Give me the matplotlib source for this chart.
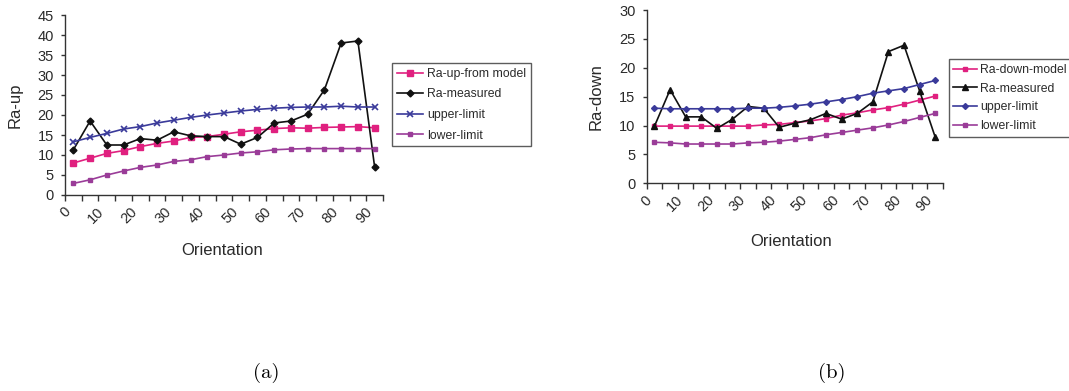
import numpy as np
import matplotlib
matplotlib.use('Agg')
import matplotlib.pyplot as plt

# Orientation categories (0..90 step 5), labels every other one
orientation = [0, 5, 10, 15, 20, 25, 30, 35, 40, 45, 50, 55, 60, 65, 70, 75, 80, 85, 90]
tick_labels = ['0', '10', '20', '30', '40', '50', '60', '70', '80', '90']

# (a) Ra-up
up_model = [8.0, 9.2, 10.4, 11.1, 12.1, 12.9, 13.5, 14.4, 14.6, 15.2, 15.8, 16.2, 16.6, 16.8,
            16.7, 16.9, 17.0, 17.1, 16.8]
up_measured = [11.3, 18.5, 12.5, 12.5, 14.1, 13.7, 15.8, 14.8, 14.6, 14.6, 12.7, 14.4, 18.0, 18.5,
               20.2, 26.3, 38.0, 38.5, 7.0]
up_upper = [13.3, 14.4, 15.4, 16.5, 17.1, 18.0, 18.7, 19.4, 20.0, 20.5, 21.0, 21.4, 21.7, 21.9,
            22.0, 22.0, 22.2, 22.0, 22.0]
up_lower = [2.9, 3.8, 5.0, 6.0, 6.9, 7.5, 8.4, 8.8, 9.6, 10.0, 10.5, 10.8, 11.3, 11.5,
            11.6, 11.6, 11.6, 11.6, 11.6]

# (b) Ra-down
down_model = [9.9, 9.9, 9.9, 9.9, 9.9, 9.9, 9.9, 10.1, 10.2, 10.5, 10.8, 11.2, 11.8, 12.2,
              12.7, 13.1, 13.7, 14.4, 15.1]
down_measured = [9.9, 16.2, 11.5, 11.5, 9.5, 11.1, 13.3, 13.0, 9.7, 10.4, 11.0, 12.1, 11.1, 12.1,
                 14.1, 22.8, 23.9, 16.0, 8.0]
down_upper = [13.0, 12.9, 12.9, 12.9, 12.9, 12.9, 13.0, 13.0, 13.15, 13.4, 13.7, 14.1, 14.5, 15.0,
              15.6, 16.0, 16.4, 17.1, 17.8]
down_lower = [7.1, 7.0, 6.8, 6.8, 6.8, 6.8, 7.0, 7.1, 7.3, 7.6, 7.9, 8.4, 8.8, 9.2,
              9.6, 10.1, 10.7, 11.4, 12.1]

colors = {
    'model': '#e0207f',
    'measured': '#111111',
    'upper': '#3a3a9a',
    'lower': '#9a3c98',
}

plt.rcParams['font.family'] = ['Liberation Sans', 'DejaVu Sans']
text_col = '#2a2a2a'

fig = plt.figure(figsize=(10.69, 3.91), dpi=100)
W, H = 1069, 391


def fig_rect(x0, x1, y_top, y_bot):
    return [x0 / W, 1 - y_bot / H, (x1 - x0) / W, (y_bot - y_top) / H]


def style_axis(ax, ymax, ystep):
    x = np.arange(len(orientation))
    ax.set_xlim(-0.5, len(orientation) - 0.5)
    ax.set_ylim(0, ymax)
    ax.set_yticks(np.arange(0, ymax + 1, ystep))
    ax.set_xticks(x[::2])
    ax.set_xticklabels(tick_labels, rotation=45, ha='right')
    ax.set_xticks(np.arange(-0.5, len(orientation), 1), minor=True)
    ax.tick_params(axis='x', which='major', length=0, pad=7, labelsize=10.5, labelcolor=text_col)
    ax.tick_params(axis='x', which='minor', length=4, width=1, direction='out', color='#333333')
    ax.tick_params(axis='y', length=3, width=1, direction='out', labelsize=10.5,
                   labelcolor=text_col, color='#333333', pad=5)
    for side in ['top', 'right']:
        ax.spines[side].set_visible(False)
    for side in ['left', 'bottom']:
        ax.spines[side].set_color('#333333')
        ax.spines[side].set_linewidth(1)


x = np.arange(len(orientation))

# PLOT (a)
ax1 = fig.add_axes(fig_rect(65, 383, 15, 195))
ax1.plot(x, up_model, color=colors['model'], lw=1.2, marker='s', ms=4, label='Ra-up-from model')
ax1.plot(x, up_measured, color=colors['measured'], lw=1.2, marker='D', ms=3.5, label='Ra-measured')
ax1.plot(x, up_upper, color=colors['upper'], lw=1.2, marker='x', ms=4, mew=1.2, label='upper-limit')
ax1.plot(x, up_lower, color=colors['lower'], lw=1.2, marker='s', ms=3.5, label='lower-limit')
style_axis(ax1, 45, 5)
ax1.set_ylabel('Ra-up', fontsize=12, color=text_col)
ax1.yaxis.set_label_coords(-0.132, 0.5)
ax1.set_xlabel('Orientation', fontsize=12, color=text_col)
ax1.xaxis.set_label_coords(0.493, -0.265)

# PLOT (b)
ax2 = fig.add_axes(fig_rect(646.7, 943, 10, 183.3))
ax2.plot(x, down_model, color=colors['model'], lw=1.2, marker='s', ms=3.5, label='Ra-down-model')
ax2.plot(x, down_measured, color=colors['measured'], lw=1.2, marker='^', ms=4, label='Ra-measured')
ax2.plot(x, down_upper, color=colors['upper'], lw=1.2, marker='D', ms=3, label='upper-limit')
ax2.plot(x, down_lower, color=colors['lower'], lw=1.2, marker='s', ms=3.5, label='lower-limit')
style_axis(ax2, 30, 5)
ax2.set_ylabel('Ra-down', fontsize=12, color=text_col)
ax2.yaxis.set_label_coords(-0.144, 0.5)
ax2.set_xlabel('Orientation', fontsize=12, color=text_col)
ax2.xaxis.set_label_coords(0.487, -0.29)

legend_opts = [
    (ax1, (391.7 / W, 1 - 63 / H), 2.2, 0.7),
    (ax2, (948.5 / W, 1 - 59 / H), 1.9, 0.55),
]
for ax, anchor, hlen, lspace in legend_opts:
    leg = ax.legend(loc='upper left', bbox_to_anchor=anchor, bbox_transform=fig.transFigure,
                    fontsize=8.8, frameon=True, fancybox=False, handlelength=hlen,
                    handletextpad=0.3, labelspacing=lspace, borderpad=0.4, borderaxespad=0)
    leg.get_frame().set_edgecolor('#333333')
    leg.get_frame().set_linewidth(1)
    for t in leg.get_texts():
        t.set_color(text_col)

# Captions
fig.text(266 / W, 1 - 373 / H, '(a)', ha='center', va='center', fontsize=15,
         family=['cmr10', 'DejaVu Serif'])
fig.text(832 / W, 1 - 373 / H, '(b)', ha='center', va='center', fontsize=15,
         family=['cmr10', 'DejaVu Serif'])

plt.savefig('out.png', dpi=100, facecolor='white')
plt.close()
